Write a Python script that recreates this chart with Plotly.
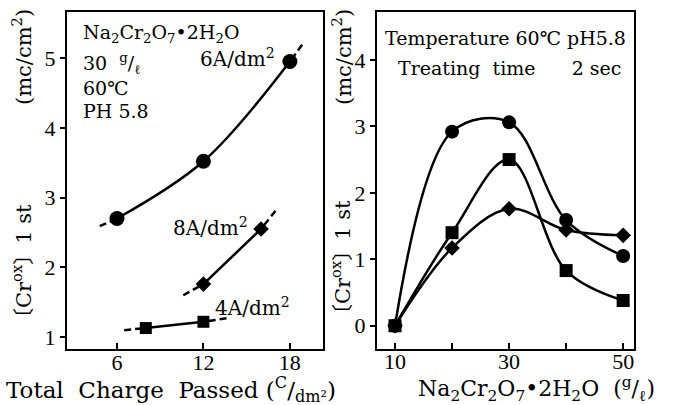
import plotly.graph_objects as go

W, H = 681, 405

# ---- Left panel data (Total Charge Passed vs [Crox] 1st) ----
charge_6A = [6, 12, 18]
crox_6A = [2.70, 3.52, 4.95]
charge_8A = [12, 16]
crox_8A = [1.76, 2.55]
charge_4A = [8, 12]
crox_4A = [1.13, 1.22]
# dashed curve-end extents (x, y)
ext_6A = [(4.8, 2.59), (18.85, 5.19)]
ext_8A = [(10.6, 1.60), (17.0, 2.81)]
ext_4A = [(6.5, 1.10), (13.6, 1.27)]

# ---- Right panel data (Na2Cr2O7 conc. vs [Crox] 1st) ----
conc = [10, 20, 30, 40, 50]
crox_circle = [0.0, 2.92, 3.06, 1.59, 1.05]
crox_square = [0.0, 1.40, 2.50, 0.83, 0.38]
crox_diamond = [0.0, 1.17, 1.76, 1.44, 1.36]

left_xticks = [6, 12, 18]
left_yticks = [1, 2, 3, 4, 5]
right_xticks = [10, 20, 30, 40, 50]
right_xticktext = ["10", "", "30", "", "50"]
right_yticks = [0, 1, 2, 3, 4]

TICKFONT = "Liberation Serif, DejaVu Serif, serif"
FONT = "DejaVu Serif, Liberation Serif, Noto Sans CJK JP, serif"
LW = 2.5

fig = go.Figure()

def curve(x, y, xa, ya, symbol, size, dash_ends=None):
    fig.add_trace(go.Scatter(x=x, y=y, mode="lines", xaxis=xa, yaxis=ya,
                             line=dict(color="black", width=LW, shape="spline"),
                             showlegend=False, hoverinfo="skip"))
    if dash_ends:
        (sx, sy), (ex, ey) = dash_ends
        fig.add_trace(go.Scatter(x=[sx, x[0]], y=[sy, y[0]], mode="lines", xaxis=xa, yaxis=ya,
                                 line=dict(color="black", width=LW, dash="7px,4px"),
                                 showlegend=False, hoverinfo="skip"))
        fig.add_trace(go.Scatter(x=[ex, x[-1]], y=[ey, y[-1]], mode="lines", xaxis=xa, yaxis=ya,
                                 line=dict(color="black", width=LW, dash="7px,4px"),
                                 showlegend=False, hoverinfo="skip"))
    fig.add_trace(go.Scatter(x=x, y=y, mode="markers", xaxis=xa, yaxis=ya,
                             marker=dict(symbol=symbol, size=size, color="black",
                                         line=dict(width=0)),
                             showlegend=False, hoverinfo="skip"))

curve(charge_6A, crox_6A, "x", "y", "circle", 15, ext_6A)
curve(charge_8A, crox_8A, "x", "y", "diamond", 12, ext_8A)
curve(charge_4A, crox_4A, "x", "y", "square", 12, ext_4A)

curve(conc, crox_circle, "x2", "y2", "circle", 14)
curve(conc, crox_square, "x2", "y2", "square", 13)
curve(conc, crox_diamond, "x2", "y2", "diamond", 12)

axis_common = dict(showline=True, mirror=True, linecolor="black", linewidth=2,
                   showgrid=False, zeroline=False, tickcolor="black",
                   tickfont=dict(family=TICKFONT, size=22, color="black"))

ydom = [1 - 349 / H, 1 - 12 / H]
fig.update_layout(
    width=W, height=H,
    margin=dict(l=0, r=0, t=0, b=0),
    paper_bgcolor="white", plot_bgcolor="white",
    xaxis=dict(domain=[67 / W, 323 / W], range=[2.53, 20.3], tickvals=left_xticks,
               ticks="inside", ticklen=6, tickwidth=1.5, anchor="y",
               ticklabelstandoff=-7, **axis_common),
    yaxis=dict(domain=ydom, range=[0.83, 5.66], tickvals=left_yticks,
               ticks="outside", ticklen=5, tickwidth=1.5, anchor="x", **axis_common),
    xaxis2=dict(domain=[377 / W, 634 / W], range=[6.84, 51.9], tickvals=right_xticks,
                ticktext=right_xticktext, ticks="inside", ticklen=6, tickwidth=1.5,
                anchor="y2", ticklabelstandoff=-8, **axis_common),
    yaxis2=dict(domain=ydom, range=[-0.35, 4.72], tickvals=right_yticks,
                ticks="outside", ticklen=5, tickwidth=1.5, anchor="x2", **axis_common),
)

def ann(text, x, y, xanchor="left", size=20, angle=0):
    fig.add_annotation(text=text, x=x / W, y=1 - y / H, xref="paper", yref="paper",
                       xanchor=xanchor, yanchor="middle", showarrow=False,
                       textangle=angle, font=dict(family=FONT, size=size, color="black"))

NA = "Na<sub>2</sub>Cr<sub>2</sub>O<sub>7</sub>•2H<sub>2</sub>O"
ann(NA, 81, 34, size=19)
ann("30\u00a0\u00a0<sup>g</sup>/<sub>ℓ</sub>", 81, 63, size=19)
ann("60℃", 81, 88, size=19)
ann("PH 5.8", 81, 111, size=19)
ann("6A/dm<sup>2</sup>", 198, 58, size=20)
ann("8A/dm<sup>2</sup>", 171, 227, size=20)
ann("4A/dm<sup>2</sup>", 213, 307, size=20)

ann("Temperature 60℃ pH5.8", 383, 38, size=19)
ann("Treating\u00a0 time\u00a0 \u00a0\u00a0\u00a0 2 sec", 396, 68, size=19)

ann("Total\u00a0 Charge\u00a0 Passed (<sup>C</sup>/<sub>dm²</sub>)", 171, 389, xanchor="center", size=23)
ann(NA + "\u00a0 (<sup>g</sup>/<sub>ℓ</sub>)", 536, 389, xanchor="center", size=22)

ann("(mc/cm<sup>2</sup>)", 22, 57, xanchor="center", size=21, angle=-90)
ann("〔Cr<sup>ox</sup>〕1 st", 22, 267, xanchor="center", size=21, angle=-90)
ann("(mc/cm<sup>2</sup>)", 342, 57, xanchor="center", size=21, angle=-90)
ann("〔Cr<sup>ox</sup>〕1 st", 341, 263, xanchor="center", size=21, angle=-90)

fig.write_html("out.html", config={"displayModeBar": False},
               post_script="document.body.style.margin='0';document.body.style.overflow='hidden';")
